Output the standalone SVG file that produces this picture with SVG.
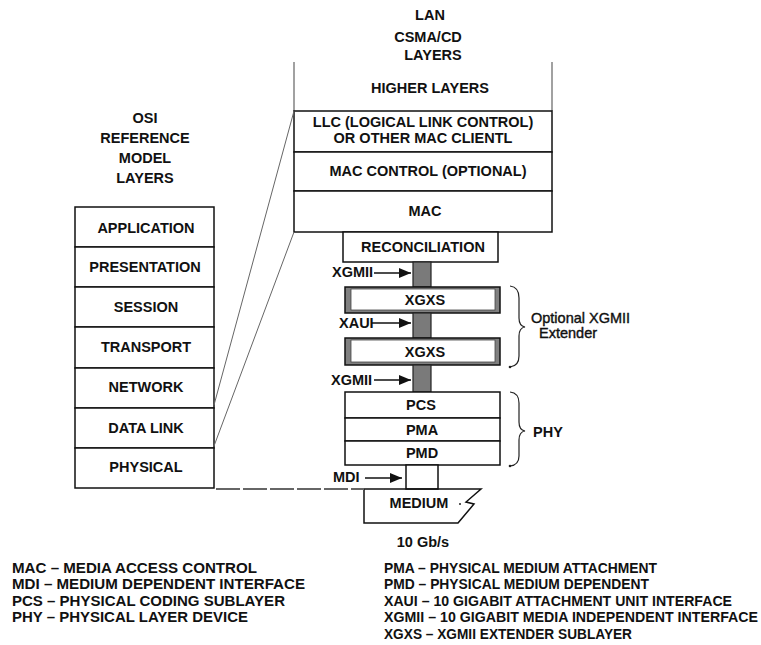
<svg xmlns="http://www.w3.org/2000/svg" width="761" height="645" viewBox="0 0 761 645">
  <defs>
    <marker id="arrow" viewBox="0 0 12 10" refX="12" refY="5" markerWidth="12" markerHeight="10" markerUnits="userSpaceOnUse" orient="auto">
      <path d="M0,0 L12,5 L0,10 Z" fill="#111"/>
    </marker>
    <style>
      text { font-family: "Liberation Sans", Arial, sans-serif; font-size: 14.5px; font-weight: bold; fill: #111; text-anchor: middle; }
      .lg { text-anchor: start; }
      .lr { text-anchor: start; font-size: 14px; }
      .st { text-anchor: start; font-weight: normal; stroke: #111; stroke-width: 0.4; }
      .box { fill: #fff; stroke: #111; stroke-width: 1.5; }
      .bar { fill: #7a7a7a; stroke: #222; stroke-width: 1.2; }
      .xg { fill: #808080; stroke: #111; stroke-width: 1.5; }
      .xgi { fill: #fff; stroke: #444; stroke-width: 0.8; }
      .ln { fill: none; stroke: #111; stroke-width: 1.5; }
      .thin { fill: none; stroke: #666; stroke-width: 1; }
      .arr { fill: none; stroke: #111; stroke-width: 1.6; marker-end: url(#arrow); }
      .brace { fill: none; stroke: #222; stroke-width: 1.2; }
    </style>
  </defs>

  <!-- OSI reference model stack -->
  <g id="osi-title">
    <text x="145" y="123">OSI</text>
    <text x="145" y="143">REFERENCE</text>
    <text x="145" y="163">MODEL</text>
    <text x="145" y="183">LAYERS</text>
  </g>
  <g id="osi-application"><rect class="box" x="75" y="207" width="139" height="40"/><text x="146" y="233">APPLICATION</text></g>
  <g id="osi-presentation"><rect class="box" x="75" y="247" width="139" height="40"/><text x="145" y="272">PRESENTATION</text></g>
  <g id="osi-session"><rect class="box" x="75" y="287" width="139" height="40"/><text x="146" y="312">SESSION</text></g>
  <g id="osi-transport"><rect class="box" x="75" y="327" width="139" height="41"/><text x="146" y="352">TRANSPORT</text></g>
  <g id="osi-network"><rect class="box" x="75" y="368" width="139" height="40"/><text x="146" y="392">NETWORK</text></g>
  <g id="osi-datalink"><rect class="box" x="75" y="408" width="139" height="40"/><text x="146" y="433">DATA LINK</text></g>
  <g id="osi-physical"><rect class="box" x="75" y="448" width="139" height="40"/><text x="146" y="472">PHYSICAL</text></g>

  <!-- LAN CSMA/CD stack -->
  <g id="lan-title">
    <text x="430" y="20">LAN</text>
    <text x="428" y="42">CSMA/CD</text>
    <text x="433" y="60">LAYERS</text>
  </g>
  <g id="higher-layers">
    <line x1="294" y1="62" x2="294" y2="111" stroke="#8a8a8a" stroke-width="1.6"/>
    <line x1="552" y1="62" x2="552" y2="111" stroke="#8a8a8a" stroke-width="1.6"/>
    <text x="430" y="93">HIGHER LAYERS</text>
  </g>
  <g id="llc"><rect class="box" x="294" y="111" width="258" height="41"/><text x="423" y="127">LLC (LOGICAL LINK CONTROL)</text><text x="423" y="143">OR OTHER MAC CLIENTL</text></g>
  <g id="mac-control"><rect class="box" x="294" y="152" width="258" height="39"/><text x="428" y="176">MAC CONTROL (OPTIONAL)</text></g>
  <g id="mac"><rect class="box" x="294" y="191" width="258" height="41"/><text x="425" y="216">MAC</text></g>
  <g id="reconciliation"><rect class="box" x="343" y="232" width="155" height="30"/><text x="423" y="252">RECONCILIATION</text></g>

  <!-- interface bars -->
  <g id="xgmii-bar-1"><rect class="bar" x="413" y="262" width="18" height="25"/></g>
  <g id="xgxs-1">
    <rect class="xg" x="345" y="287" width="155" height="26"/>
    <rect class="xgi" x="351" y="289" width="144" height="21"/>
    <text x="425" y="305">XGXS</text>
  </g>
  <g id="xaui-bar"><rect class="bar" x="413" y="313" width="18" height="25"/></g>
  <g id="xgxs-2">
    <rect class="xg" x="345" y="338" width="155" height="27"/>
    <rect class="xgi" x="351" y="340" width="144" height="22"/>
    <text x="425" y="357">XGXS</text>
  </g>
  <g id="xgmii-bar-2"><rect class="bar" x="413" y="365" width="18" height="27"/></g>

  <!-- PHY sublayers -->
  <g id="pcs"><rect class="box" x="345" y="392" width="155" height="26"/><text x="421" y="410">PCS</text></g>
  <g id="pma"><rect class="box" x="345" y="418" width="155" height="23"/><text x="422" y="435">PMA</text></g>
  <g id="pmd"><rect class="box" x="345" y="441" width="155" height="24"/><text x="422" y="458">PMD</text></g>
  <g id="mdi"><rect class="box" x="406" y="465" width="32" height="24"/></g>

  <!-- medium with break mark -->
  <g id="medium">
    <path class="ln" d="M364,489 H481 L466,502 Q470,503 474,504 L458,523 H364 Z"/>
    <circle cx="460" cy="504" r="1" fill="#222"/>
    <text x="419" y="508">MEDIUM</text>
    <text x="423" y="547">10 Gb/s</text>
  </g>

  <!-- interface labels with arrows -->
  <g id="labels">
    <text class="lg" x="332" y="277">XGMII</text>
    <text class="lg" x="339" y="328">XAUI</text>
    <text class="lg" x="331" y="385">XGMII</text>
    <text class="lg" x="333" y="482">MDI</text>
  </g>

  <!-- braces and group labels -->
  <g id="extender-brace">
    <path class="brace" d="M510,286 Q519,287 519,298 V318 Q519,326 525,327 Q519,328 519,336 V356 Q519,366 510,367"/>
    <circle cx="510" cy="367" r="1.3" fill="#222"/>
    <text class="st" x="531" y="323">Optional XGMII</text>
    <text class="st" x="539" y="338">Extender</text>
  </g>
  <g id="phy-brace">
    <path class="brace" d="M510,392 Q519,393 519,403 V422 Q519,430 525,431 Q519,432 519,440 V456 Q519,465 510,466"/>
    <circle cx="510" cy="466" r="1.3" fill="#222"/>
    <text class="lg" x="533" y="437">PHY</text>
  </g>

  <!-- connectors -->
  <g id="connectors">
    <line class="thin" x1="214" y1="405" x2="294" y2="111"/>
    <line class="thin" x1="214" y1="446" x2="294" y2="232"/>
    <line x1="216" y1="489" x2="364" y2="489" stroke="#666" stroke-width="2" stroke-dasharray="24,3"/>
    <line class="arr" x1="374" y1="273" x2="411" y2="273"/>
    <line class="arr" x1="372" y1="323" x2="411" y2="323"/>
    <line class="arr" x1="374" y1="380" x2="411" y2="380"/>
    <line class="arr" x1="365" y1="478" x2="402" y2="478"/>
  </g>

  <!-- legend -->
  <g id="legend-left">
    <text class="lg" x="12" y="573" textLength="245" lengthAdjust="spacingAndGlyphs">MAC – MEDIA ACCESS CONTROL</text>
    <text class="lg" x="12" y="589" textLength="293" lengthAdjust="spacingAndGlyphs">MDI – MEDIUM DEPENDENT INTERFACE</text>
    <text class="lg" x="12" y="606" textLength="273" lengthAdjust="spacingAndGlyphs">PCS – PHYSICAL CODING SUBLAYER</text>
    <text class="lg" x="12" y="622" textLength="236" lengthAdjust="spacingAndGlyphs">PHY – PHYSICAL LAYER DEVICE</text>
  </g>
  <g id="legend-right">
    <text class="lr" x="384" y="573" textLength="273" lengthAdjust="spacingAndGlyphs">PMA – PHYSICAL MEDIUM ATTACHMENT</text>
    <text class="lr" x="384" y="589" textLength="265" lengthAdjust="spacingAndGlyphs">PMD – PHYSICAL MEDIUM DEPENDENT</text>
    <text class="lr" x="384" y="606" textLength="348" lengthAdjust="spacingAndGlyphs">XAUI – 10 GIGABIT ATTACHMENT UNIT INTERFACE</text>
    <text class="lr" x="384" y="622" textLength="374" lengthAdjust="spacingAndGlyphs">XGMII – 10 GIGABIT MEDIA INDEPENDENT INTERFACE</text>
    <text class="lr" x="384" y="639" textLength="248" lengthAdjust="spacingAndGlyphs">XGXS – XGMII EXTENDER SUBLAYER</text>
  </g>
</svg>
